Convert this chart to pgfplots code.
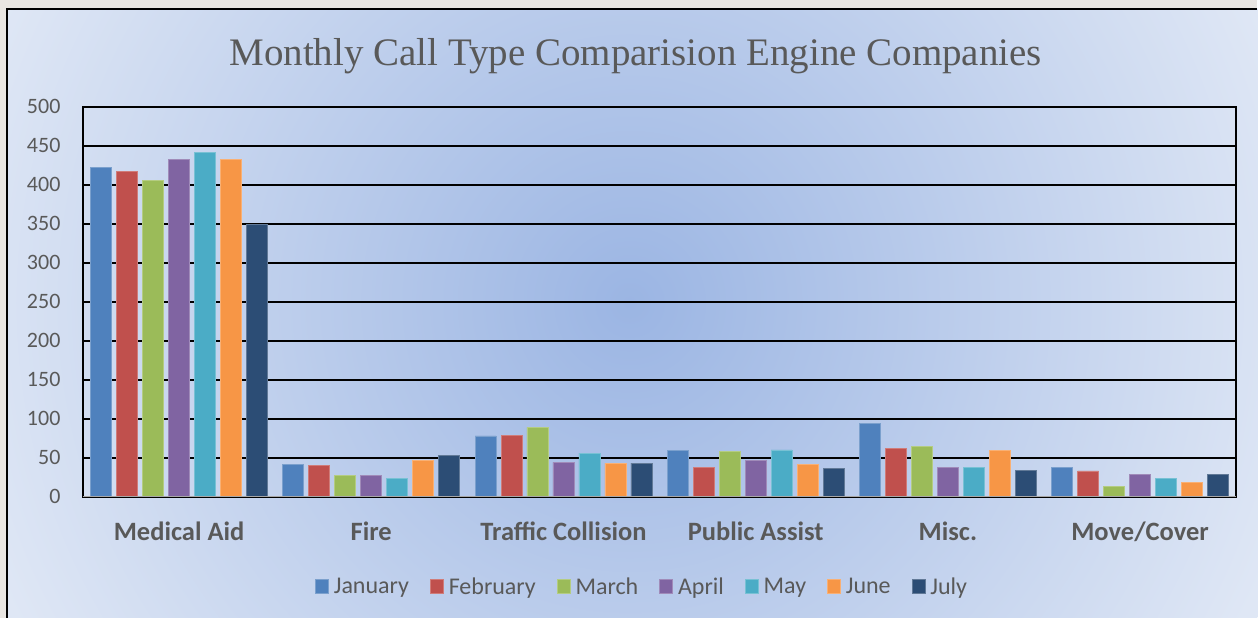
\documentclass[border=0pt]{standalone}
\usepackage{pgfplots}
\pgfplotsset{compat=1.18}
\usepackage{fontspec}
\setmainfont{Carlito}
\newfontfamily\titlefont{Liberation Serif}
\definecolor{cJan}{HTML}{4F81BD}
\definecolor{cFeb}{HTML}{C0504D}
\definecolor{cMar}{HTML}{9BBB59}
\definecolor{cApr}{HTML}{8064A2}
\definecolor{cMay}{HTML}{4BACC6}
\definecolor{cJun}{HTML}{F79646}
\definecolor{cJul}{HTML}{2C4D75}
\definecolor{txt}{HTML}{595959}
\definecolor{bgin}{HTML}{9BB5E3}
\definecolor{bgout}{HTML}{DFE7F5}
\definecolor{paper}{HTML}{E9E6E2}
\begin{document}
\begin{tikzpicture}[x=1pt,y=1pt]
\fill[paper] (0,0) rectangle (1258,618);
\begin{scope}
\clip (7,0) rectangle (1258,609);
\shade[inner color=bgin, outer color=bgout] (-60,-375) rectangle (1320,1005);
\end{scope}
\draw[black, line width=1.5pt] (7,0) -- (7,609) -- (1258,609);
\node[text=txt, font=\titlefont\fontsize{39}{42}\selectfont] at (636,562) {Monthly Call Type Comparision Engine Companies};
\begin{axis}[
  at={(83pt,121pt)}, anchor=south west,
  width=1154pt, height=390pt, scale only axis,
  ybar=5pt, bar width=21pt,
  xmin=-0.5, xmax=5.5, ymin=0, ymax=500,
  ytick distance=50,
  xtick={0,1,2,3,4,5},
  xticklabels={Medical Aid,Fire,Traffic Collision,Public Assist,Misc.,Move/Cover},
  major tick length=0pt,
  ymajorgrids, grid style={black, line width=2.3pt},
  axis line style={black, line width=2.3pt},
  /pgf/number format/assume math mode=true,
  yticklabel style={text=txt, font=\fontsize{22}{24}\selectfont, xshift=-19pt},
  xticklabel style={text=txt, font=\bfseries\fontsize{26.5}{28}\selectfont, yshift=-22pt},
  legend style={at={(0.4766,-0.231)}, anchor=center, draw=none, fill=none,
    legend columns=-1, font=\fontsize{24}{26}\selectfont, text=txt},
  legend image code/.code={\fill[#1] (0pt,-7pt) rectangle (13pt,7pt); \path (-19pt,0pt) (16pt,0pt);},
  every axis plot/.append style={line width=0.8pt},
]
\addplot[fill=cJan, draw=cJan!75!white] coordinates {(0,422) (1,41) (2,78) (3,59) (4,94) (5,37)};
\addplot[fill=cFeb, draw=cFeb!75!white] coordinates {(0,417) (1,40) (2,79) (3,37) (4,62) (5,33)};
\addplot[fill=cMar, draw=cMar!75!white] coordinates {(0,406) (1,27) (2,89) (3,58) (4,65) (5,13)};
\addplot[fill=cApr, draw=cApr!75!white] coordinates {(0,433) (1,27) (2,44) (3,46) (4,37) (5,29)};
\addplot[fill=cMay, draw=cMay!75!white] coordinates {(0,442) (1,23) (2,56) (3,60) (4,37) (5,23)};
\addplot[fill=cJun, draw=cJun!75!white] coordinates {(0,433) (1,46) (2,43) (3,41) (4,59) (5,18)};
\addplot[fill=cJul, draw=cJul!75!white] coordinates {(0,349) (1,53) (2,43) (3,36) (4,34) (5,28)};
\legend{January,February,March,April,May,June,July}
\draw[gray!70, line width=2pt] (axis cs:-0.5,0) -- (axis cs:5.5,0);
\end{axis}
\end{tikzpicture}
\end{document}
